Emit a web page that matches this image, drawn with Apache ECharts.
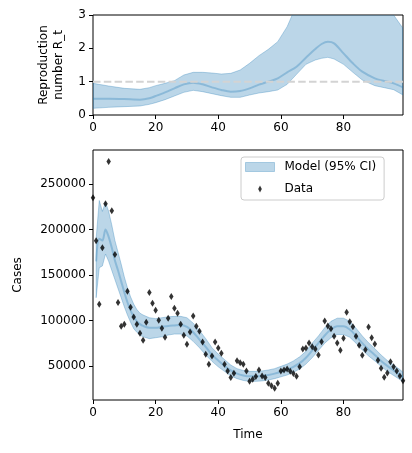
<!DOCTYPE html>
<html>
<head>
<meta charset="utf-8">
<script src="https://cdn.jsdelivr.net/npm/echarts@6/dist/echarts.min.js"></script>
<style>
html,body{margin:0;padding:0;background:#fff;}
#chart{width:412px;height:453px;}
</style>
</head>
<body>
<div id="chart"></div>
<script>
// ---- Reproduction number R_t (top panel) ----
const rtX    = [0, 5, 10, 15, 18, 20, 23, 26, 29, 32, 35, 38, 41, 44, 47, 50, 53, 56, 59, 62, 65, 68, 71, 73, 75, 77, 80, 83, 86, 90, 93, 96, 99];
const rtMean = [0.49,0.49,0.48,0.46,0.50,0.57,0.68,0.80,0.92,0.97,0.92,0.83,0.75,0.70,0.72,0.80,0.91,1.00,1.10,1.28,1.45,1.72,1.98,2.13,2.20,2.15,1.85,1.55,1.30,1.10,1.02,0.95,0.83];
const rtLo   = [0.20,0.23,0.25,0.27,0.32,0.37,0.46,0.57,0.68,0.74,0.70,0.64,0.58,0.53,0.53,0.60,0.66,0.70,0.75,0.92,1.22,1.52,1.65,1.70,1.73,1.68,1.52,1.28,1.05,0.88,0.82,0.76,0.60];
const rtHi   = [0.95,0.87,0.80,0.77,0.82,0.88,0.95,1.03,1.20,1.28,1.28,1.26,1.23,1.25,1.35,1.55,1.78,1.97,2.20,2.65,3.30,3.80,4.20,4.40,4.50,4.50,4.40,4.20,3.90,3.70,3.35,3.00,2.60];
const rtThreshold = 1;

// ---- Cases (bottom panel) ----
const dataX = Array.from({length: 100}, (_, i) => i);
const dataCases = [
  235000,187800,117700,180000,228400,274800,220700,172500,119800,93500,
  95700,132200,114400,103700,95700,85900,78200,97900,130800,118800,
  111100,100100,91300,81500,102300,126400,113300,107800,95700,83700,
  73800,87300,105000,93700,88000,76300,62800,51900,61000,76300,
  69700,63900,51900,44500,37200,42000,55800,53600,51900,44500,
  33200,35400,38300,45600,39000,37200,31000,28100,25500,31000,
  44500,45600,46700,44200,41600,38500,49000,68600,69700,75200,
  71200,68600,62100,76600,99300,93900,90900,82600,75200,67100,
  80300,108900,98600,93100,82600,72700,61700,67900,92800,81000,
  74100,56200,47500,37600,42300,54700,49200,44500,39000,33600
];
const modelX    = [1,2,3,4,5,6,7,8,9,10,11,12,13,14,15,16,18,20,22,24,26,28,30,32,34,36,38,40,42,44,46,48,50,52,54,56,58,60,62,64,66,68,70,72,74,76,78,80,82,84,86,88,90,92,94,96,98,99];
const modelMean = [165000,190000,188000,200000,192000,180000,166000,155000,143000,131000,120000,111000,104000,99000,96000,94000,92000,92000,93000,94000,94500,95000,93000,87000,79000,71000,62000,56000,50000,45000,41500,39500,38500,38500,39000,40000,41500,43500,46000,49000,53000,59000,67000,75000,83500,90000,93500,93500,90000,83000,75000,68000,62000,55500,50000,45000,40000,37500];
const modelLo   = [125000,158000,160000,173000,165000,155000,145000,135000,125000,115000,106000,98000,91000,87000,84000,82000,80000,81000,82000,84000,85000,85000,83000,77000,70000,62000,55000,49000,44000,39000,36000,34000,33000,33000,33500,34500,36000,38000,40000,43000,46500,52000,59000,67000,75000,81000,84500,84500,81500,75000,67500,61000,55500,49500,44000,39500,35000,32500];
const modelHi   = [190000,232000,220000,230000,220000,205000,188000,175000,162000,148000,136000,126000,118000,112000,108000,106000,103000,102000,103000,104000,104500,104500,103000,97000,89000,80000,70000,63000,57000,51000,47000,45000,44000,44000,44500,45500,47000,49500,52000,55500,60000,66000,75000,83000,92000,99000,102500,102500,99000,91500,83000,75500,69000,62000,56000,51000,46000,43000];

const xTicks = [0, 20, 40, 60, 80];
const casesTicks = [50000, 100000, 150000, 200000, 250000];

const FONT = 'DejaVu Sans';
const BAND = 'rgba(31,119,180,0.3)';

function bandRenderer(xs, lo, hi) {
  return function (params, api) {
    if (params.dataIndex !== 0) return null;
    const pts = [];
    for (let i = 0; i < xs.length; i++) pts.push(api.coord([xs[i], hi[i]]));
    for (let i = xs.length - 1; i >= 0; i--) pts.push(api.coord([xs[i], lo[i]]));
    const cs = params.coordSys;
    return {
      type: 'group',
      clipPath: {type: 'rect', shape: {x: cs.x, y: cs.y, width: cs.width, height: cs.height}},
      children: [{
        type: 'polygon',
        shape: {points: pts},
        style: {fill: BAND, stroke: BAND, lineWidth: 1}
      }]
    };
  };
}

const plainNum = v => String(v);

const axisCommon = {
  axisLine: {show: false},
  splitLine: {show: false},
  axisTick: {show: true, inside: false, length: 4, lineStyle: {color: '#000', width: 1}},
  axisLabel: {color: '#000', fontFamily: FONT, fontSize: 12, margin: 7, formatter: plainNum},
  nameTextStyle: {color: '#000', fontFamily: FONT, fontSize: 12}
};

const option = {
  animation: false,
  backgroundColor: '#fff',
  grid: [
    {left: 93, top: 15, width: 310, height: 100, show: true, borderColor: '#000', borderWidth: 1, backgroundColor: 'transparent'},
    {left: 93, top: 150, width: 310, height: 250, show: true, borderColor: '#000', borderWidth: 1, backgroundColor: 'transparent'}
  ],
  xAxis: [
    Object.assign({}, axisCommon, {
      type: 'value', gridIndex: 0, min: 0, max: 99,
      axisTick: Object.assign({}, axisCommon.axisTick, {customValues: xTicks}),
      axisLabel: Object.assign({}, axisCommon.axisLabel, {customValues: xTicks})
    }),
    Object.assign({}, axisCommon, {
      type: 'value', gridIndex: 1, min: 0, max: 99,
      name: 'Time', nameLocation: 'middle', nameGap: 29,
      axisTick: Object.assign({}, axisCommon.axisTick, {customValues: xTicks}),
      axisLabel: Object.assign({}, axisCommon.axisLabel, {customValues: xTicks})
    })
  ],
  yAxis: [
    Object.assign({}, axisCommon, {
      type: 'value', gridIndex: 0, min: 0, max: 3, interval: 1,
      name: 'Reproduction\nnumber R_t', nameLocation: 'middle', nameGap: 27, nameRotate: 90,
      nameTextStyle: {color: '#000', fontFamily: FONT, fontSize: 12, lineHeight: 15}
    }),
    Object.assign({}, axisCommon, {
      type: 'value', gridIndex: 1, min: 12500, max: 287500,
      name: 'Cases', nameLocation: 'middle', nameGap: 69, nameRotate: 90,
      axisTick: Object.assign({}, axisCommon.axisTick, {customValues: casesTicks}),
      axisLabel: Object.assign({}, axisCommon.axisLabel, {customValues: casesTicks})
    })
  ],
  legend: {
    orient: 'vertical', left: 241, top: 157,
    padding: [4, 8, 5, 4], itemGap: 10, itemWidth: 29, itemHeight: 9,
    borderColor: '#cccccc', borderWidth: 1, borderRadius: 3,
    backgroundColor: 'rgba(255,255,255,0.8)',
    selectedMode: false,
    textStyle: {color: '#000', fontFamily: FONT, fontSize: 12, padding: [0, 0, 0, 5]},
    data: [
      {name: 'Model (95% CI)', icon: 'rect', itemStyle: {color: BAND, borderColor: BAND, borderWidth: 1}},
      {name: 'Data', icon: 'path://M0,0M10,10M5,1L7,5L5,9L3,5Z', itemStyle: {color: '#000', borderWidth: 0}}
    ]
  },
  series: [
    {
      name: 'R_t (95% CI)', type: 'custom', xAxisIndex: 0, yAxisIndex: 0,
      renderItem: bandRenderer(rtX, rtLo, rtHi),
      data: rtX.map((x, i) => [x, rtLo[i], rtHi[i]]),
      encode: {x: 0, y: [1, 2]}, clip: true, silent: true, z: 2
    },
    {
      name: 'R_t mean', type: 'line', xAxisIndex: 0, yAxisIndex: 0,
      data: rtX.map((x, i) => [x, rtMean[i]]),
      smooth: 0.3, showSymbol: false, symbol: 'none',
      lineStyle: {color: BAND, width: 2}, z: 3, silent: true
    },
    {
      name: 'Threshold', type: 'line', xAxisIndex: 0, yAxisIndex: 0,
      data: [[0, rtThreshold], [99, rtThreshold]],
      showSymbol: false, symbol: 'none',
      lineStyle: {color: '#d3d3d3', width: 2, type: [7.5, 3.3]}, z: 4, silent: true
    },
    {
      name: 'Model (95% CI)', type: 'custom', xAxisIndex: 1, yAxisIndex: 1,
      renderItem: bandRenderer(modelX, modelLo, modelHi),
      data: modelX.map((x, i) => [x, modelLo[i], modelHi[i]]),
      encode: {x: 0, y: [1, 2]}, clip: true, silent: true, z: 2,
      itemStyle: {color: BAND}
    },
    {
      name: 'Model mean', type: 'line', xAxisIndex: 1, yAxisIndex: 1,
      data: modelX.map((x, i) => [x, modelMean[i]]),
      smooth: 0.3, showSymbol: false, symbol: 'none',
      lineStyle: {color: BAND, width: 2}, z: 3, silent: true
    },
    {
      name: 'Data', type: 'scatter', xAxisIndex: 1, yAxisIndex: 1,
      data: dataX.map((x, i) => [x, dataCases[i]]),
      symbol: 'diamond', symbolSize: [4.5, 7],
      itemStyle: {color: '#000'}, z: 5, silent: true
    }
  ]
};

const chart = echarts.init(document.getElementById('chart'), null, {renderer: 'canvas'});
chart.setOption(option);
</script>
</body>
</html>
